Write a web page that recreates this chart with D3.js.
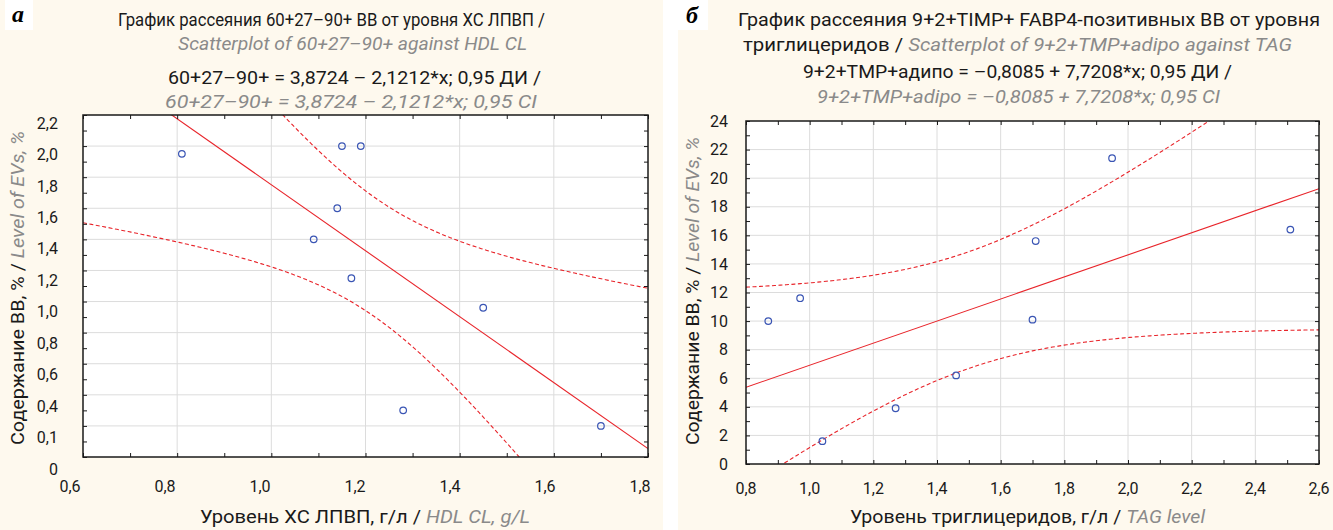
<!DOCTYPE html>
<html><head><meta charset="utf-8">
<script src="https://cdn.jsdelivr.net/npm/d3@7"></script>
<style>
body{margin:0;background:#fff}
svg{display:block}
text{font-family:Roboto,"Open Sans",sans-serif}
</style>
</head><body>
<svg id="chart" width="1333" height="530"></svg>
<script>
// ---------- Panel а : 60+27–90+ EVs vs HDL CL ----------
const hdlLevel   = [0.81, 1.15, 1.19, 1.14, 1.09, 1.17, 1.45, 1.28, 1.70];
const evs60      = [1.95, 2.00, 2.00, 1.60, 1.40, 1.15, 0.96, 0.30, 0.20];
const fitA       = [3.8724, -2.1212];            // intercept, slope
const xTicksA    = [0.6, 0.8, 1.0, 1.2, 1.4, 1.6, 1.8];
const xLabelsA   = ["0,6","0,8","1,0","1,2","1,4","1,6","1,8"];
const yTicksA    = [0, 0.2, 0.4, 0.6, 0.8, 1.0, 1.2, 1.4, 1.6, 1.8, 2.0, 2.2];
const yLabelsA   = ["0","0,1","0,4","0,6","0,8","1,0","1,2","1,4","1,6","1,8","2,0","2,2"];
const titleA = [
  [["График рассеяния 60+27–90+ ВВ от уровня ХС ЛПВП /", 0]],
  [["Scatterplot of 60+27–90+ against HDL CL", 1]],
  [["60+27–90+ = 3,8724 – 2,1212*x; 0,95 ДИ /", 0]],
  [["60+27–90+ = 3,8724 – 2,1212*x; 0,95 CI", 1]]
];
const xTitleA = [["Уровень ХС ЛПВП, г/л / ", 0], ["HDL CL, g/L", 1]];

// ---------- Panel б : 9+2+TIMP+ FABP4+ EVs vs TAG ----------
const tagLevel   = [0.87, 0.97, 1.04, 1.27, 1.46, 1.70, 1.71, 1.95, 2.51];
const evs9       = [10.0, 11.6, 1.6, 3.9, 6.2, 10.1, 15.6, 21.4, 16.4];
const fitB       = [-0.8085, 7.7208];
const xTicksB    = [0.8, 1.0, 1.2, 1.4, 1.6, 1.8, 2.0, 2.2, 2.4, 2.6];
const xLabelsB   = ["0,8","1,0","1,2","1,4","1,6","1,8","2,0","2,2","2,4","2,6"];
const yTicksB    = [0, 2, 4, 6, 8, 10, 12, 14, 16, 18, 20, 22, 24];
const yLabelsB   = ["0","2","4","6","8","10","12","14","16","18","20","22","24"];
const titleB = [
  [["График рассеяния 9+2+TIMP+ FABP4-позитивных ВВ от уровня", 0]],
  [["триглицеридов / ", 0], ["Scatterplot of 9+2+TMP+adipo against TAG", 1]],
  [["9+2+TMP+адипо = –0,8085 + 7,7208*x; 0,95 ДИ /", 0]],
  [["9+2+TMP+adipo = –0,8085 + 7,7208*x; 0,95 CI", 1]]
];
const xTitleB = [["Уровень триглицеридов, г/л / ", 0], ["TAG level", 1]];

const yTitle = [["Содержание ВВ, % / ", 0], ["Level of EVs, %", 1]];
const tCrit = 2.3646; // t(0.975, df = 7)

const CREAM = "#fef9ee", RED = "#e8242a", BLUE = "#3a55b4", GRAY = "#8a8a8a", INK = "#1a1a1a";

const svg = d3.select("#chart");
svg.append("rect").attr("width",1333).attr("height",530).attr("fill","#fff");
svg.append("rect").attr("x",0).attr("y",0).attr("width",663).attr("height",530).attr("fill",CREAM);
svg.append("rect").attr("x",678).attr("y",0).attr("width",655).attr("height",530).attr("fill",CREAM);
svg.append("rect").attr("x",5).attr("y",0).attr("width",28).attr("height",30).attr("fill","#fff");
svg.append("rect").attr("x",678).attr("y",0).attr("width",30).attr("height",30).attr("fill","#fff");
svg.append("text").attr("x",12).attr("y",22).text("а")
  .style("font-family","'Liberation Serif','DejaVu Serif',serif").style("font-weight","bold")
  .style("font-style","italic").style("font-size","24px").attr("fill","#000");
svg.append("text").attr("x",686).attr("y",23).text("б")
  .style("font-family","'Liberation Serif','DejaVu Serif',serif").style("font-weight","bold")
  .style("font-style","italic").style("font-size","24px").attr("fill","#000");

function richText(sel, segs){
  segs.forEach(([t, en]) => {
    sel.append("tspan").text(t)
      .attr("fill", en ? GRAY : INK)
      .style("font-style", en ? "italic" : "normal");
  });
}
// text fitted to a measured box: [left x, width]
function fittedText(segs, x0, w, y, transform){
  const t = svg.append("text").attr("dy", "0.35em").style("font-size", "18px")
    .attr("textLength", w).attr("lengthAdjust", "spacingAndGlyphs");
  if (transform) t.attr("transform", transform);
  t.attr("x", x0).attr("y", y);
  richText(t, segs);
  return t;
}

function drawPanel(c){
  const x = d3.scaleLinear().domain(c.xDom).range([c.left, c.right]);
  const y = d3.scaleLinear().domain(c.yDom).range([c.bottom, c.top]);
  const g = svg.append("g");
  const clipId = "clip" + c.id;
  g.append("clipPath").attr("id", clipId).append("rect")
    .attr("x", c.left).attr("y", c.top).attr("width", c.right - c.left).attr("height", c.bottom - c.top);

  g.append("rect").attr("x", c.left).attr("y", c.top)
    .attr("width", c.right - c.left).attr("height", c.bottom - c.top).attr("fill", "#fff");

  // grid
  g.append("g").selectAll("line").data(c.xTicks.slice(1, -1)).join("line")
    .attr("x1", d => x(d)).attr("x2", d => x(d)).attr("y1", c.top).attr("y2", c.bottom)
    .attr("stroke", "#dcdcdc").attr("stroke-width", 1);
  g.append("g").selectAll("line").data(c.yTicks.slice(1, -1)).join("line")
    .attr("y1", d => y(d)).attr("y2", d => y(d)).attr("x1", c.left).attr("x2", c.right)
    .attr("stroke", "#dcdcdc").attr("stroke-width", 1);

  // regression + 95% CI
  const [b0, b1] = c.fit;
  const n = c.xs.length;
  const xm = d3.mean(c.xs);
  const sxx = d3.sum(c.xs, v => (v - xm) ** 2);
  const sse = d3.sum(c.xs, (v, i) => (c.ys[i] - (b0 + b1 * v)) ** 2);
  const s = Math.sqrt(sse / (n - 2));
  const grid = d3.range(0, 201).map(i => c.xDom[0] + (c.xDom[1] - c.xDom[0]) * i / 200);
  const hw = v => tCrit * s * Math.sqrt(1 / n + (v - xm) ** 2 / sxx);
  const line = d3.line().x(d => x(d[0])).y(d => y(d[1]));
  const lg = g.append("g").attr("clip-path", `url(#${clipId})`);
  lg.append("path").attr("d", line(grid.map(v => [v, b0 + b1 * v + hw(v)])))
    .attr("fill", "none").attr("stroke", RED).attr("stroke-width", 1.1).attr("stroke-dasharray", "4,2.5");
  lg.append("path").attr("d", line(grid.map(v => [v, b0 + b1 * v - hw(v)])))
    .attr("fill", "none").attr("stroke", RED).attr("stroke-width", 1.1).attr("stroke-dasharray", "4,2.5");
  lg.append("path").attr("d", line(c.xDom.map(v => [v, b0 + b1 * v])))
    .attr("fill", "none").attr("stroke", RED).attr("stroke-width", 1.1);

  // points
  g.append("g").selectAll("circle").data(c.xs.map((v, i) => [v, c.ys[i]])).join("circle")
    .attr("cx", d => x(d[0])).attr("cy", d => y(d[1])).attr("r", 3.3)
    .attr("fill", "none").attr("stroke", BLUE).attr("stroke-width", 1.2);

  // inward minor ticks on four sides
  const mx = d3.range(c.xDom[0], c.xDom[1] + 1e-9, c.xMinor);
  const my = d3.range(c.yDom[0], c.yDom[1] + 1e-9, c.yMinor);
  g.append("g").attr("transform", `translate(0,${c.bottom})`)
    .call(d3.axisBottom(x).tickValues(mx).tickSize(-4).tickFormat(""));
  g.append("g").attr("transform", `translate(0,${c.top})`)
    .call(d3.axisTop(x).tickValues(mx).tickSize(-4).tickFormat(""));
  g.append("g").attr("transform", `translate(${c.left},0)`)
    .call(d3.axisLeft(y).tickValues(my).tickSize(-4).tickFormat(""));
  g.append("g").attr("transform", `translate(${c.right},0)`)
    .call(d3.axisRight(y).tickValues(my).tickSize(-4).tickFormat(""));
  g.selectAll(".domain").attr("stroke", "none");
  g.selectAll(".tick line").attr("stroke", INK);
  g.append("rect").attr("x", c.left).attr("y", c.top)
    .attr("width", c.right - c.left).attr("height", c.bottom - c.top)
    .attr("fill", "none").attr("stroke", INK).attr("stroke-width", 1.5);

  // tick labels
  const xl = c.xLabelScale || x, yl = c.yLabelScale || y;
  const xa = g.append("g").attr("transform", `translate(0,${c.bottom})`)
    .call(d3.axisBottom(x).tickValues(c.xTicks).tickSize(0).tickPadding(0)
      .tickFormat((d, i) => c.xLabels[i]));
  xa.select(".domain").remove();
  xa.selectAll(".tick").attr("transform", d => `translate(${xl(d)},0)`);
  xa.selectAll("text").attr("y", c.xLabelDy).attr("dy", "0.35em").attr("fill", INK)
    .style("font-size", "16px").style("font-family", null);
  const ya = g.append("g").attr("transform", `translate(${c.yLabelX},0)`)
    .call(d3.axisLeft(y).tickValues(c.yTicks).tickSize(0).tickPadding(0)
      .tickFormat((d, i) => c.yLabels[i]));
  ya.select(".domain").remove();
  ya.selectAll(".tick").attr("transform", d => `translate(0,${yl(d)})`);
  ya.selectAll("text").attr("x", 0).attr("dy", "0.35em").attr("fill", INK)
    .style("font-size", "16px").style("font-family", null);

  // titles
  c.title.forEach((segs, i) => fittedText(segs, c.titleBox[i][0], c.titleBox[i][1], c.titleY[i]));
  fittedText(c.xTitle, c.xTitleBox[0], c.xTitleBox[1], 517);
  fittedText(yTitle, -c.yTitleBox[0], c.yTitleBox[1], c.yTitleX, "rotate(-90)");
}

drawPanel({
  id: "A", left: 83, right: 648, top: 115, bottom: 457,
  xDom: [0.6, 1.8], yDom: [0, 2.2], xMinor: 0.1, yMinor: 0.1,
  xs: hdlLevel, ys: evs60, fit: fitA,
  xTicks: xTicksA, xLabels: xLabelsA, yTicks: yTicksA, yLabels: yLabelsA,
  xLabelScale: d3.scaleLinear().domain([0.6, 1.8]).range([70, 640]),
  yLabelScale: d3.scaleLinear().domain([0, 2.2]).range([469, 123]),
  xLabelDy: 29, yLabelX: 58,
  title: titleA, titleY: [20, 44, 78, 102],
  titleBox: [[118, 427], [178, 349], [168, 373], [165, 372]],
  xTitle: xTitleA, xTitleBox: [200, 330],
  yTitleX: 18, yTitleBox: [445, 314]
});
drawPanel({
  id: "B", left: 746, right: 1319, top: 121, bottom: 464,
  xDom: [0.8, 2.6], yDom: [0, 24], xMinor: 0.1, yMinor: 1,
  xs: tagLevel, ys: evs9, fit: fitB,
  xTicks: xTicksB, xLabels: xLabelsB, yTicks: yTicksB, yLabels: yLabelsB,
  xLabelDy: 24, yLabelX: 728,
  title: titleB, titleY: [20, 45, 72, 97],
  titleBox: [[738, 582], [743, 549], [803, 429], [817, 403]],
  xTitle: xTitleB, xTitleBox: [850, 355],
  yTitleX: 693, yTitleBox: [445, 308]
});
</script>
</body></html>
